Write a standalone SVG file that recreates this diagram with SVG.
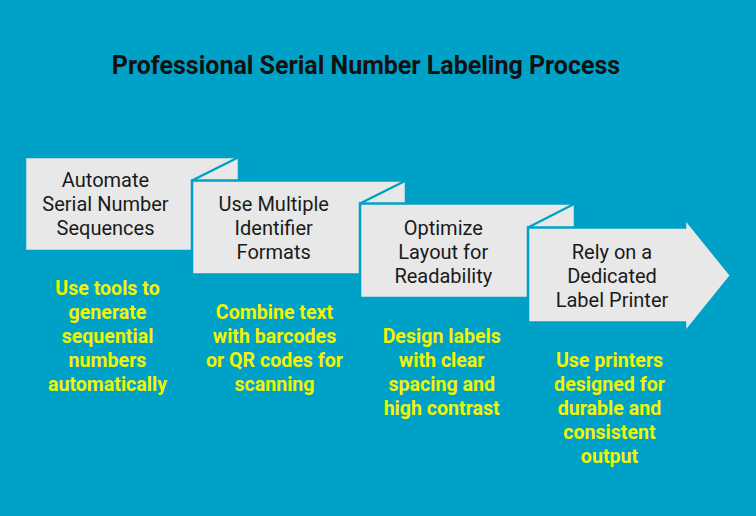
<svg xmlns="http://www.w3.org/2000/svg" width="756" height="516" viewBox="0 0 756 516">
<style>
.bg{fill:#00a1c6}
.step{fill:#e8e8e8;stroke:#00a1c6;stroke-width:2.5}
.fold{stroke:#00a1c6;stroke-width:2.5;fill:none}
.t{font-family:Roboto,"Liberation Sans",sans-serif;font-size:20px;fill:#1a1a1a;text-anchor:middle}
.d{font-family:Roboto,"Liberation Sans",sans-serif;font-size:19.6px;font-weight:bold;fill:#f2f500;text-anchor:middle}
.title{font-family:Roboto,"Liberation Sans",sans-serif;font-size:25px;font-weight:bold;fill:#111;text-anchor:middle}
</style>
<rect class="bg" x="0" y="0" width="756" height="516"/>
<text class="title" x="366" y="74">Professional Serial Number Labeling Process</text>
<g id="step1">
<rect class="step" x="25" y="157" width="214" height="94"/>
<text class="t" x="105.5" y="187">Automate</text>
<text class="t" x="105.5" y="211">Serial Number</text>
<text class="t" x="105.5" y="235">Sequences</text>
<text class="d" x="107.5" y="295">Use tools to</text>
<text class="d" x="107.5" y="319">generate</text>
<text class="d" x="107.5" y="343">sequential</text>
<text class="d" x="107.5" y="367">numbers</text>
<text class="d" x="107.5" y="391">automatically</text>
</g>
<g id="step2">
<rect class="step" x="192" y="180.5" width="214" height="94"/>
<text class="t" x="273.7" y="211">Use Multiple</text>
<text class="t" x="273.7" y="235">Identifier</text>
<text class="t" x="273.7" y="259">Formats</text>
<text class="d" x="274.5" y="319">Combine text</text>
<text class="d" x="274.5" y="343">with barcodes</text>
<text class="d" x="274.5" y="367">or QR codes for</text>
<text class="d" x="274.5" y="391">scanning</text>
</g>
<g id="step3">
<rect class="step" x="360" y="203.5" width="215" height="94.5"/>
<text class="t" x="443.3" y="235">Optimize</text>
<text class="t" x="443.3" y="259">Layout for</text>
<text class="t" x="443.3" y="283">Readability</text>
<text class="d" x="441.7" y="343">Design labels</text>
<text class="d" x="441.7" y="367">with clear</text>
<text class="d" x="441.7" y="391">spacing and</text>
<text class="d" x="441.7" y="415">high contrast</text>
</g>
<g id="step4">
<polygon class="step" points="528,227.5 685,227.5 685,218.5 731,275.5 685,332.5 685,322.5 528,322.5"/>
<text class="t" x="612" y="259">Rely on a</text>
<text class="t" x="612" y="283">Dedicated</text>
<text class="t" x="612" y="307">Label Printer</text>
<text class="d" x="609.5" y="367">Use printers</text>
<text class="d" x="609.5" y="391">designed for</text>
<text class="d" x="609.5" y="415">durable and</text>
<text class="d" x="609.5" y="439">consistent</text>
<text class="d" x="609.5" y="463">output</text>
</g>
<g id="connectors">
<line class="fold" x1="239" y1="157" x2="192" y2="180.5"/>
<line class="fold" x1="406" y1="180.5" x2="360" y2="203.5"/>
<line class="fold" x1="575" y1="203.5" x2="528" y2="227.5"/>
</g>
</svg>
